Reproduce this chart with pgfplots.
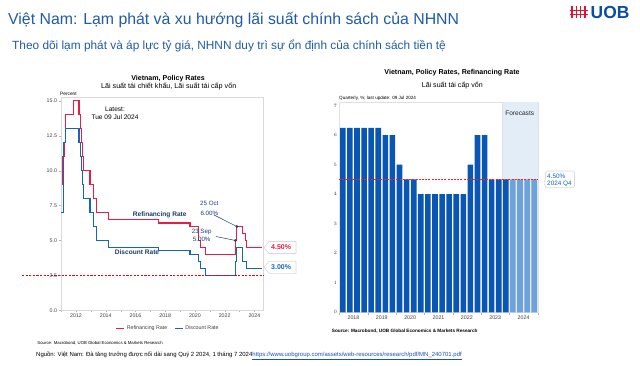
\documentclass[border=0pt]{standalone}
\usepackage{pgfplots}
\pgfplotsset{compat=1.18}
\usepackage{fontspec}
\setmainfont{Liberation Sans}
\newcommand{\fs}[2]{\fontsize{#1}{#2}\selectfont}
\definecolor{hdrblue}{HTML}{1F5BA8}
\definecolor{refired}{HTML}{EC1B42}
\definecolor{discblue}{HTML}{1565C0}
\definecolor{navy}{HTML}{1F3A6E}
\definecolor{bardark}{HTML}{0A56B4}
\definecolor{barlight}{HTML}{6EA2DA}
\definecolor{fcbg}{HTML}{E2EDF8}
\definecolor{uobred}{HTML}{E8112D}
\definecolor{uobblue}{HTML}{0A4DA2}
\definecolor{linkblue}{HTML}{1A4FC4}
\definecolor{tickgray}{HTML}{404040}
\definecolor{dashred}{rgb}{0.93,0.15,0.15}
\definecolor{darkdashred}{rgb}{0.82,0.05,0.05}
\begin{document}
\begin{tikzpicture}[x=1bp,y=1bp]
\useasboundingbox (0,0) rectangle (640,365);
\fill[white] (0,0) rectangle (640,365);
% header
\node[anchor=base west,inner sep=0,text=hdrblue] at (8,341) {\fs{15.9}{18}Việt Nam: Lạm phát và xu hướng lãi suất chính sách của NHNN};
\node[anchor=base west,inner sep=0,text=hdrblue] at (12,316) {\fs{11.9}{13}Theo dõi lạm phát và áp lực tỷ giá, NHNN duy trì sự ổn định của chính sách tiền tệ};
% UOB logo
\foreach \xx in {572,576.3,580.6,585}{\draw[uobred,line width=1.5] (\xx,346.5) -- (\xx,358.5);}
\draw[uobred,line width=1.3] (569.5,354.3) -- (587.5,354.3);
\draw[uobred,line width=1.3] (569.5,350.3) -- (587.5,350.3);
\node[anchor=base west,inner sep=0,text=uobblue] at (590.5,346.7) {\bfseries\fs{17.5}{19}UOB};

% ===== left chart =====
\node[anchor=base,inner sep=0] at (168,285) {\bfseries\fs{7.1}{8}Vietnam, Policy Rates};
\node[anchor=base,inner sep=0] at (168.7,276.7) {\fs{7.2}{8}Lãi suất tái chiết khấu, Lãi suất tái cấp vốn};
\node[anchor=base west,inner sep=0] at (60,270) {\fs{4.8}{5}Percent};
\begin{axis}[
  at={(60.7bp,54.7bp)}, anchor=south west,
  scale only axis, width=202.6bp, height=213bp,
  xmin=2010.97, xmax=2024.6, ymin=0, ymax=15.25,
  clip=false,
  axis line style={draw=black!15},
  xtick={2012,2014,...,2024},
  xticklabels={2012,2014,2016,2018,2020,2022,2024},
  minor xtick={2011,2013,...,2023},
  ytick={0,2.5,...,15},
  yticklabels={0.0,2.5,5.0,7.5,10.0,12.5,15.0},
  xtick pos=bottom, ytick pos=left,
  tick align=outside, major tick length=2bp, minor tick length=1.5bp,
  tick style={black!30},
  ticklabel style={font=\fs{5.3}{6}, text=tickgray},
  yticklabel style={inner sep=1.5bp},
  xticklabel style={inner sep=1.5bp},
  legend style={at={(0.53,-0.085)}, anchor=center, draw=none, fill=none, font=\fs{5.3}{6}, text=tickgray,
    /tikz/every even column/.append style={column sep=5bp}},
  legend columns=2,
  legend image code/.code={\draw[#1,line width=1.2bp] (0,0) -- (8bp,0);},
]
\coordinate (l1) at (axis cs:2008.37,2.5);
\coordinate (l2) at (axis cs:2024.6,2.5);
\addplot[const plot, color=refired, line width=1.1bp] coordinates {
(2011.04,9) (2011.1,11) (2011.2,12) (2011.31,14) (2011.82,15) (2012.2,14) (2012.29,13) (2012.36,12) (2012.43,11) (2012.5,10) (2012.94,9) (2013.2,8) (2013.36,7) (2014.18,6.5) (2017.54,6.25) (2019.67,6) (2020.23,5) (2020.35,4.5) (2020.73,4) (2022.72,5) (2022.82,6) (2023.2,5.5) (2023.38,5) (2023.47,4.5) (2024.54,4.5)};
\addlegendentry{Refinancing Rate}
\addplot[const plot, color=discblue, line width=1.1bp] coordinates {
(2010.97,7) (2011.15,12) (2011.31,13) (2012.2,12) (2012.29,11) (2012.36,10) (2012.44,9) (2012.5,8) (2012.94,7) (2013.2,6) (2013.36,5) (2014.18,4.5) (2017.54,4.25) (2019.67,4) (2020.23,3.5) (2020.35,3) (2020.73,2.5) (2022.72,3.5) (2022.82,4.5) (2023.2,3.5) (2023.47,3) (2024.54,3)};
\addlegendentry{Discount Rate}
\addplot[only marks, mark=o, mark size=1.1bp, color=navy, line width=0.5bp, forget plot] coordinates {(2022.82,6) (2022.72,5)};
\coordinate (p6) at (axis cs:2022.82,6);
\coordinate (p5) at (axis cs:2022.72,5);
\end{axis}
\draw[darkdashred, dash pattern=on 2.2bp off 1.4bp, line width=0.9bp] (l1) -- (l2);
\node[anchor=base,inner sep=0] at (115,253.3) {\fs{6.6}{7}Latest:};
\node[anchor=base,inner sep=0] at (115,245.7) {\fs{6.6}{7}Tue 09 Jul 2024};
\node[inner sep=0,text=navy] at (159.7,149.7) {\bfseries\fs{6.6}{7}Refinancing Rate};
\node[inner sep=0,text=navy] at (137,113) {\bfseries\fs{6.6}{7}Discount Rate};
\node[inner sep=0,text=navy] at (209.3,161.3) {\fs{6.2}{7}25 Oct};
\node[inner sep=0,text=navy] at (209.3,151.7) {\fs{6.2}{7}6.00\%};
\node[inner sep=0,text=navy] at (201.7,133) {\fs{6.2}{7}23 Sep};
\node[inner sep=0,text=navy] at (201.7,125.7) {\fs{6.2}{7}5.00\%};
\draw[navy,line width=0.5bp] (214,150) -- (p6);
\draw[navy,line width=0.5bp] (216,128.5) -- (p5);
% tags
\draw[black!15,fill=white,line width=0.6bp] (264,117.5) -- (269,123.5) -- (296,123.5) -- (296,111.5) -- (269,111.5) -- cycle;
\node[anchor=west,inner sep=0,text=refired] at (271,117.5) {\bfseries\fs{7}{8}4.50\%};
\draw[black!15,fill=white,line width=0.6bp] (264,97.7) -- (269,103.7) -- (296,103.7) -- (296,91.7) -- (269,91.7) -- cycle;
\node[anchor=west,inner sep=0,text=discblue] at (271,97.7) {\bfseries\fs{7}{8}3.00\%};
\node[anchor=base west,inner sep=0] at (37.3,21) {\fs{4.3}{5}Source: Macrobond, UOB Global Economics \& Markets Research};

% ===== right chart =====
\node[inner sep=0] at (452,292.7) {\bfseries\fs{7.1}{8}Vietnam, Policy Rates, Refinancing Rate};
\node[inner sep=0] at (452.3,279.3) {\fs{7.1}{8}Lãi suất tái cấp vốn};
\node[anchor=west,inner sep=0] at (339,266.3) {\fs{4.6}{5}Quarterly, \%; last update: 09 Jul 2024};
\begin{axis}[
  at={(338.7bp,52.7bp)}, anchor=south west,
  scale only axis, width=199.6bp, height=210bp,
  xmin=-0.58, xmax=27.58, ymin=0, ymax=7.115,
  axis line style={draw=black!12},
  xtick={1.5,5.5,...,25.5},
  xticklabels={2018,2019,2020,2021,2022,2023,2024},
  minor xtick={-0.5,3.5,...,27.5},
  ytick={0,1,...,7},
  xtick pos=bottom, ytick pos=left,
  tick align=outside, major tick length=0bp, minor tick length=3bp,
  minor tick style={black!30},
  ticklabel style={font=\fs{5.3}{6}, text=tickgray},
  yticklabel style={inner sep=1.5bp},
  xticklabel style={inner sep=3bp},
]
\fill[fcbg] (axis cs:22.5,0) rectangle (axis cs:27.58,7.115);
\draw[black!12,line width=0.5bp] (axis cs:22.5,0) -- (axis cs:22.5,7.115);
\addplot[ybar, bar width=5.6bp, bar shift=0pt, fill=bardark, draw=none] coordinates {
(0,6.25) (1,6.25) (2,6.25) (3,6.25) (4,6.25) (5,6.25) (6,6) (7,6) (8,5) (9,4.5) (10,4.5)
(11,4) (12,4) (13,4) (14,4) (15,4) (16,4) (17,4) (18,5) (19,6) (20,6) (21,4.5) (22,4.5) (23,4.5)};
\addplot[ybar, bar width=5.6bp, bar shift=0pt, fill=barlight, draw=none] coordinates {
(24,4.5) (25,4.5) (26,4.5) (27,4.5)};
\coordinate (r1) at (axis cs:-0.58,4.5);
\coordinate (r2) at (axis cs:27.58,4.5);
\end{axis}
\draw[dashred, dash pattern=on 2bp off 1.2bp, line width=1.4bp] (r1) -- (r2);
\node[inner sep=0,text=black!85] at (519.7,251.7) {\fs{6.6}{7}Forecasts};
\draw[black!15,fill=white,line width=0.6bp,rounded corners=1.5bp] (543,182) -- (545.5,184.5) -- (545.5,194) -- (574.5,194) -- (574.5,177.3) -- (545.5,177.3) -- (545.5,179.5) -- cycle;
\node[anchor=west,inner sep=0,text=discblue] at (547,189) {\fs{6.4}{7}4.50\%};
\node[anchor=west,inner sep=0,text=discblue] at (547,181.3) {\fs{6.4}{7}2024 Q4};
\node[anchor=west,inner sep=0] at (331.7,34) {\bfseries\fs{4.7}{5}Source: Macrobond, UOB Global Economics \& Markets Research};

% footer
\node[anchor=west,inner sep=0] at (36,9.3) {\fs{6}{7}Nguồn: Việt Nam: Đà tăng trưởng được nối dài sang Quý 2 2024, 1 tháng 7 2024\textcolor{linkblue}{\underline{https://www.uobgroup.com/assets/web-resources/research/pdf/MN\_240701.pdf}}};
\end{tikzpicture}
\end{document}
